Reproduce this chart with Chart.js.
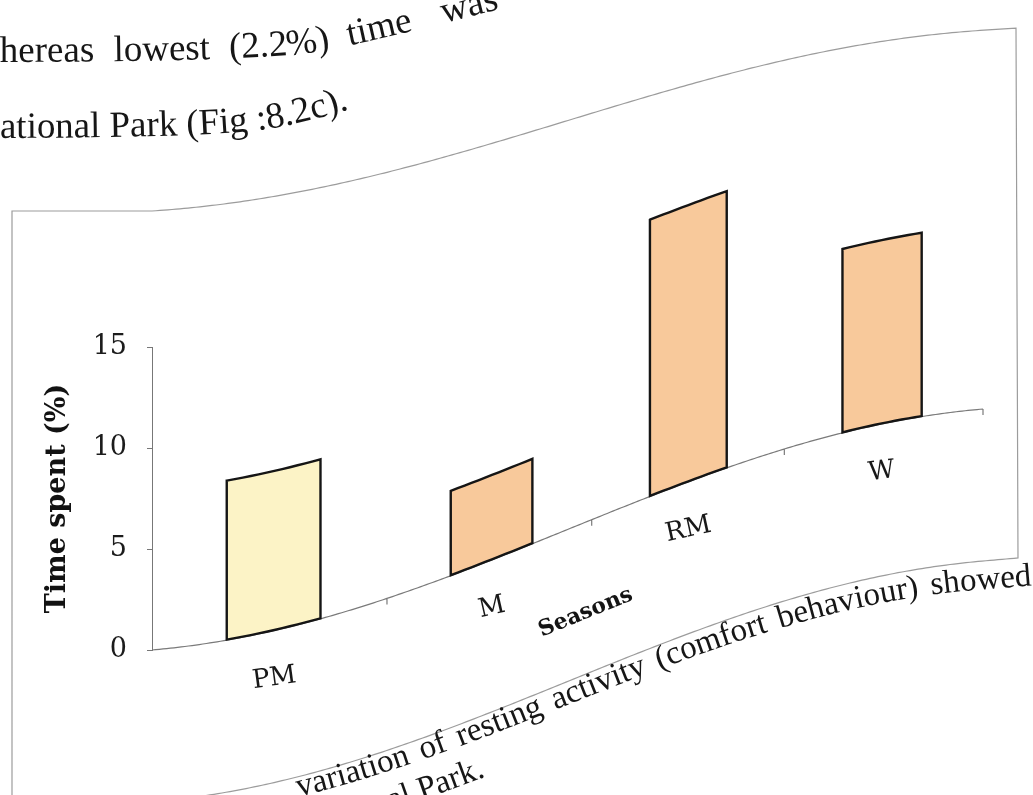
<!DOCTYPE html>
<html>
<head>
<meta charset="utf-8">
<title>Resting activity by season</title>
<script src="https://cdn.jsdelivr.net/npm/chart.js@4.4.0/dist/chart.umd.min.js"></script>
<style>
  html, body { margin: 0; padding: 0; background: #ffffff; }
  #page { position: relative; width: 1033px; height: 795px; overflow: hidden; background: #ffffff; }
  #chart { position: absolute; left: 0; top: 0; }
  #text { position: absolute; left: 0; top: 0; pointer-events: none; }
  #text text { font-family: "Liberation Serif", "Times New Roman", serif; fill: #161616; }
</style>
</head>
<body>
<div id="page">
  <canvas id="chart" width="1033" height="795"></canvas>
  <svg id="text" width="1033" height="795" viewBox="0 0 1033 795">
    <defs>
      <path id="line1" d="M -27 62 C 130 62, 230 60, 300 54 C 360 46, 430 26, 560 -6"/>
      <path id="line2" d="M -27 138 C 100 138, 200 136, 250 131 C 290 127, 320 118, 380 100"/>
      <path id="cap1" d="M 0 0"/>
      <path id="cap2" d="M 0 0"/>
    </defs>
    <text font-size="37" word-spacing="10"><textPath href="#line1">whereas lowest (2.2%) time <tspan dx="12">was</tspan></textPath></text>
    <text font-size="37"><textPath href="#line2">National Park (Fig :8.2c).</textPath></text>
    <text font-size="33" word-spacing="4" text-anchor="end"><textPath href="#cap1" startOffset="100%">variation of resting activity (comfort behaviour) showed</textPath></text>
    <text font-size="33" text-anchor="end"><textPath href="#cap2" startOffset="100%">National Park.</textPath></text>
  </svg>
</div>
<script>
// seasons and share of time spent resting (%)
const seasons = ['PM', 'M', 'RM', 'W'];
const timeSpent = [7.9, 4.2, 13.7, 9.1];
const yTicks = [0, 5, 10, 15];

const PALE = '#fcf3c6';
const TAN = '#f8c99b';

// plot box on the page, and the frame drawn round the figure
const PLOT = { left: 152, right: 983, top: 347, bottom: 650 };
const FRAME = { left: 12, right: 1018, top: 211, bottom: 802 };

// the printed page bends up towards the right
const CURL_RISE = 241;
const CURL_SQUEEZE = 0.233;

function squeeze(u) {
    const span = PLOT.right - PLOT.left;
    if (u <= 0 || u >= span) return u;
    const v = u / span;
    return u + CURL_SQUEEZE * u * (1 - v) * (1 - v);
}

function rise(u) {
    const span = PLOT.right - PLOT.left;
    if (u <= 0) return 0;
    const v = u / span;
    if (v >= 1) return CURL_RISE * (1 + 0.3 * (v - 1));
    return CURL_RISE * (0.3 * v + 0.35 * (1 - Math.cos(Math.PI * v)));
}

// flat chart pixel -> pixel on the bent page
function toPage(x, y) {
    const u = squeeze(x - PLOT.left);
    return { x: PLOT.left + u, y: y - rise(u) };
}

function tiltAt(x) {
    const a = toPage(x - 1, 0), b = toPage(x + 1, 0);
    return Math.atan2(b.y - a.y, b.x - a.x);
}

function bentBox(ctx, x0, x1, yTop, yBase) {
    const n = 12;
    ctx.beginPath();
    for (let s = 0; s <= n; s++) {
        const p = toPage(x0 + (x1 - x0) * s / n, yTop);
        if (s === 0) ctx.moveTo(p.x, p.y); else ctx.lineTo(p.x, p.y);
    }
    for (let s = n; s >= 0; s--) {
        const p = toPage(x0 + (x1 - x0) * s / n, yBase);
        ctx.lineTo(p.x, p.y);
    }
    ctx.closePath();
}

const curledPage = {
    id: 'curledPage',
    beforeDatasetsDraw: function (chart) {
        const ctx = chart.ctx;
        const area = chart.chartArea;
        const xs = chart.scales.x;
        ctx.save();

        // figure frame
        ctx.strokeStyle = '#9c9c9c';
        ctx.lineWidth = 1.2;
        ctx.beginPath();
        ctx.moveTo(FRAME.left, 795);
        ctx.lineTo(FRAME.left, FRAME.top);
        for (let x = FRAME.left; x <= FRAME.right; x += 4) {
            ctx.lineTo(x, FRAME.top - 0.75 * rise(x - PLOT.left));
        }
        ctx.lineTo(FRAME.right, FRAME.bottom - rise(FRAME.right - PLOT.left));
        for (let x = FRAME.right; x >= 150; x -= 4) {
            ctx.lineTo(x, FRAME.bottom - rise(x - PLOT.left));
        }
        ctx.stroke();

        // category axis with tick marks between the seasons
        ctx.strokeStyle = '#7a7a7a';
        ctx.lineWidth = 1.2;
        ctx.beginPath();
        for (let x = area.left; x <= area.right; x += 3) {
            const p = toPage(x, area.bottom);
            if (x === area.left) ctx.moveTo(p.x, p.y); else ctx.lineTo(p.x, p.y);
        }
        const end = toPage(area.right, area.bottom);
        ctx.lineTo(end.x, end.y);
        const step = xs.getPixelForValue(1) - xs.getPixelForValue(0);
        for (let i = 0; i < seasons.length; i++) {
            const p = toPage(xs.getPixelForValue(i) + step / 2, area.bottom);
            ctx.moveTo(p.x, p.y);
            ctx.lineTo(p.x, p.y + 6);
        }
        ctx.stroke();

        ctx.fillStyle = '#181818';
        ctx.textAlign = 'center';
        ctx.textBaseline = 'middle';
        ctx.font = '26px "DejaVu Serif"';
        seasons.forEach(function (name, i) {
            const x = xs.getPixelForValue(i);
            const p = toPage(x, area.bottom);
            ctx.save();
            ctx.translate(p.x, p.y + 48);
            ctx.rotate(tiltAt(x) * 0.6);
            ctx.fillText(name, 0, 0);
            ctx.restore();
        });

        const mid = (area.left + area.right) / 2;
        const t = toPage(mid, area.bottom);
        ctx.save();
        ctx.translate(t.x - 6, t.y + 93);
        ctx.rotate(tiltAt(mid));
        ctx.font = 'bold 22px "DejaVu Serif"';
        ctx.fillStyle = '#141414';
        ctx.fillText('Seasons', 0, 0);
        ctx.restore();

        // bars, bent with the page
        chart.getDatasetMeta(0).data.forEach(function (bar, i) {
            const half = bar.width / 2;
            bentBox(ctx, bar.x - half, bar.x + half, bar.y, bar.base);
            ctx.fillStyle = i === 0 ? PALE : TAN;
            ctx.fill();
            ctx.lineWidth = 2.4;
            ctx.lineJoin = 'miter';
            ctx.strokeStyle = '#151515';
            ctx.stroke();
        });

        ctx.restore();
        return false;
    }
};

// caption lines follow the lower edge of the frame
function captionPath(dy, x0, x1) {
    let d = '';
    for (let x = x0; x <= x1; x += 6) {
        const y = FRAME.bottom + dy + 0.012 * (x - 294) - rise(x - PLOT.left);
        d += (d ? ' L ' : 'M ') + x.toFixed(1) + ' ' + y.toFixed(1);
    }
    return d;
}
document.getElementById('cap1').setAttribute('d', captionPath(20, 60, 1036));
document.getElementById('cap2').setAttribute('d', captionPath(60, 60, 486));

const ctx = document.getElementById('chart').getContext('2d');
new Chart(ctx, {
    type: 'bar',
    data: {
        labels: seasons,
        datasets: [{
            data: timeSpent,
            backgroundColor: [PALE, TAN, TAN, TAN],
            borderColor: '#151515',
            borderWidth: 2,
            barPercentage: 0.4,
            categoryPercentage: 1.0
        }]
    },
    options: {
        responsive: false,
        animation: false,
        events: [],
        layout: {
            padding: { left: 0, top: PLOT.top, right: 1033 - PLOT.right, bottom: 795 - PLOT.bottom }
        },
        plugins: { legend: { display: false }, tooltip: { enabled: false } },
        scales: {
            x: { display: false, offset: true },
            y: {
                min: yTicks[0],
                max: yTicks[yTicks.length - 1],
                afterFit: function (scale) { scale.width = PLOT.left; },
                ticks: {
                    stepSize: yTicks[1] - yTicks[0],
                    padding: 20,
                    color: '#1c1c1c',
                    font: { family: 'DejaVu Serif', size: 27 }
                },
                grid: {
                    drawOnChartArea: false,
                    drawTicks: true,
                    tickLength: 5,
                    color: '#777777'
                },
                border: { display: true, color: '#777777', width: 1 },
                title: {
                    display: true,
                    text: 'Time spent (%)',
                    color: '#121212',
                    font: { family: 'DejaVu Serif', size: 27, weight: 'bold' },
                    padding: { top: 42, bottom: 0 }
                }
            }
        }
    },
    plugins: [curledPage]
});
</script>
</body>
</html>
